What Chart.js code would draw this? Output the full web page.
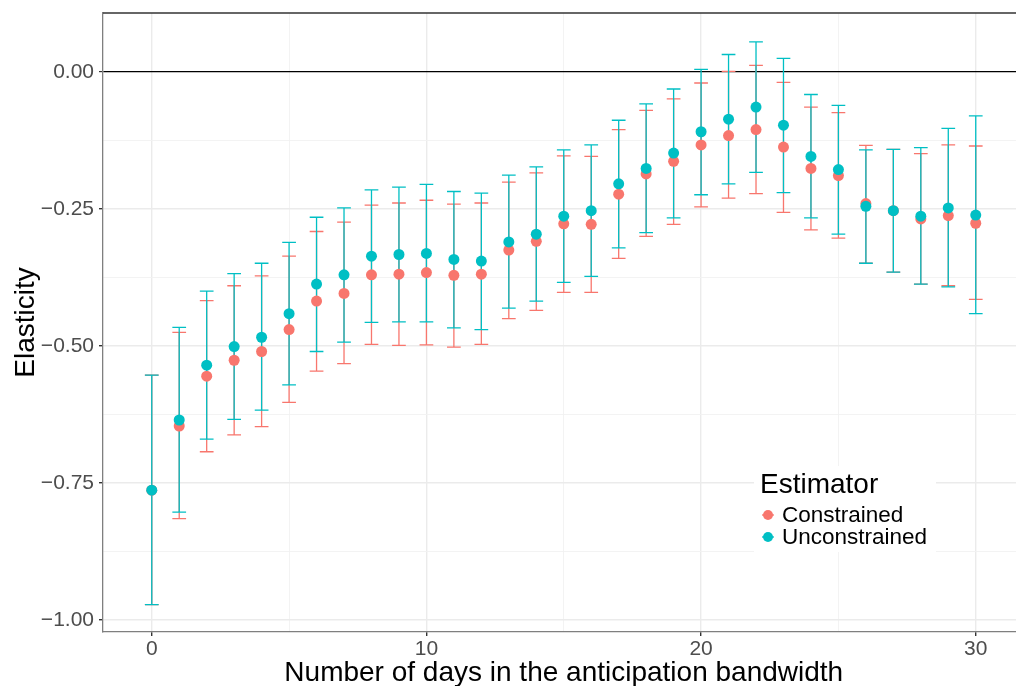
<!DOCTYPE html>
<html lang="en">
<head>
    <meta charset="UTF-8">
    <title>Elasticity by anticipation bandwidth</title>
    <style>
        html, body {
            margin: 0;
            padding: 0;
            background: #ffffff;
            overflow: hidden;
        }
        .chart-box {
            width: 1030px;
            height: 686px;
            position: relative;
        }
    </style>
</head>
<body>
    <div class="chart-box">
        <canvas id="elasticityChart"></canvas>
    </div>

    <script src="https://cdn.jsdelivr.net/npm/chart.js@4.4.3/dist/chart.umd.min.js"></script>
    <script>
        // Data
        const days = [0, 1, 2, 3, 4, 5, 6, 7, 8, 9, 10, 11, 12, 13, 14, 15,
                      16, 17, 18, 19, 20, 21, 22, 23, 24, 25, 26, 27, 28, 29, 30];

        const constrainedEst = [-0.763, -0.646, -0.555, -0.526, -0.510, -0.470, -0.418, -0.404,
            -0.370, -0.369, -0.366, -0.371, -0.369, -0.325, -0.309, -0.277, -0.278, -0.223,
            -0.186, -0.163, -0.133, -0.116, -0.105, -0.137, -0.176, -0.189, -0.240, -0.253,
            -0.268, -0.262, -0.276];
        const constrainedLow = [-0.972, -0.815, -0.693, -0.662, -0.647, -0.603, -0.546, -0.532,
            -0.497, -0.499, -0.498, -0.502, -0.497, -0.450, -0.435, -0.402, -0.402, -0.340,
            -0.300, -0.278, -0.246, -0.230, -0.222, -0.256, -0.288, -0.303, -0.349, -0.365,
            -0.387, -0.390, -0.415];
        const constrainedHigh = [-0.553, -0.475, -0.417, -0.390, -0.372, -0.336, -0.291, -0.274,
            -0.243, -0.239, -0.234, -0.241, -0.239, -0.201, -0.184, -0.153, -0.154, -0.105,
            -0.070, -0.049, -0.020, 0.001, 0.012, -0.019, -0.064, -0.074, -0.134, -0.141,
            -0.149, -0.133, -0.135];

        const unconstrainedEst = [-0.763, -0.635, -0.535, -0.501, -0.484, -0.441, -0.387, -0.370,
            -0.336, -0.333, -0.331, -0.342, -0.345, -0.310, -0.296, -0.263, -0.253, -0.204,
            -0.176, -0.148, -0.109, -0.086, -0.064, -0.097, -0.154, -0.178, -0.245, -0.253,
            -0.263, -0.248, -0.261];
        const unconstrainedLow = [-0.972, -0.803, -0.670, -0.634, -0.617, -0.571, -0.510, -0.493,
            -0.457, -0.456, -0.456, -0.467, -0.470, -0.431, -0.418, -0.384, -0.373, -0.321,
            -0.293, -0.266, -0.224, -0.204, -0.183, -0.220, -0.266, -0.296, -0.349, -0.365,
            -0.387, -0.392, -0.441];
        const unconstrainedHigh = [-0.553, -0.466, -0.400, -0.368, -0.349, -0.311, -0.265, -0.248,
            -0.215, -0.210, -0.205, -0.218, -0.221, -0.188, -0.173, -0.142, -0.133, -0.088,
            -0.058, -0.031, 0.005, 0.032, 0.055, 0.025, -0.041, -0.061, -0.142, -0.141,
            -0.138, -0.103, -0.080];

        const xTicks = [0, 5, 10, 15, 20, 25, 30];
        const yTicks = [-1, -0.875, -0.75, -0.625, -0.5, -0.375, -0.25, -0.125, 0];

        const RED = '#F8766D';
        const TEAL = '#00BFC4';
        const FONT = "'Liberation Sans', Arial, sans-serif";

        function toPoints(est) {
            return days.map((d, i) => ({ x: d, y: est[i] }));
        }

        function isMajorX(v) { return v % 10 === 0; }
        function isMajorY(v) { return Math.abs(Math.round(v * 4) - v * 4) < 1e-9; }

        function fmtY(v) {
            const s = Math.abs(v).toFixed(2);
            return v < 0 ? '\u2212' + s : s;
        }

        // error bars drawn under the points, through the chart scales
        const errorBars = {
            id: 'errorBars',
            beforeDatasetsDraw(chart) {
                const ctx = chart.ctx;
                const xs = chart.scales.x;
                const ys = chart.scales.y;
                chart.data.datasets.forEach(ds => {
                    ctx.save();
                    ctx.strokeStyle = ds.backgroundColor;
                    ctx.lineWidth = 1.3;
                    ds.errLow.forEach((lo, i) => {
                        const x = xs.getPixelForValue(days[i]);
                        const xl = xs.getPixelForValue(days[i] - 0.25);
                        const xr = xs.getPixelForValue(days[i] + 0.25);
                        const y1 = ys.getPixelForValue(lo);
                        const y2 = ys.getPixelForValue(ds.errHigh[i]);
                        ctx.beginPath();
                        ctx.moveTo(x, y1);
                        ctx.lineTo(x, y2);
                        ctx.moveTo(xl, y1);
                        ctx.lineTo(xr, y1);
                        ctx.moveTo(xl, y2);
                        ctx.lineTo(xr, y2);
                        ctx.stroke();
                    });
                    ctx.restore();
                });
            }
        };

        // top border + legend box inside the panel
        const frameAndLegend = {
            id: 'frameAndLegend',
            afterDraw(chart) {
                const ctx = chart.ctx;
                const a = chart.chartArea;
                ctx.save();
                ctx.strokeStyle = '#333333';
                ctx.lineWidth = 1.3;
                ctx.beginPath();
                ctx.moveTo(a.left, a.top);
                ctx.lineTo(a.right, a.top);
                ctx.stroke();

                // legend
                const lx = 754, ly = 466;
                ctx.fillStyle = '#ffffff';
                ctx.fillRect(lx, ly, 182, 86);
                ctx.fillStyle = '#000000';
                ctx.textBaseline = 'middle';
                ctx.textAlign = 'left';
                ctx.font = '28px ' + FONT;
                ctx.fillText('Estimator', lx + 6, ly + 19);
                ctx.font = '22.5px ' + FONT;
                chart.data.datasets.forEach((ds, i) => {
                    const cy = ly + 49 + i * 22;
                    ctx.strokeStyle = ds.backgroundColor;
                    ctx.lineWidth = 1.3;
                    ctx.beginPath();
                    ctx.moveTo(lx + 8, cy);
                    ctx.lineTo(lx + 20, cy);
                    ctx.stroke();
                    ctx.fillStyle = ds.backgroundColor;
                    ctx.beginPath();
                    ctx.arc(lx + 14, cy, 5, 0, Math.PI * 2);
                    ctx.fill();
                    ctx.fillStyle = '#000000';
                    ctx.fillText(ds.label, lx + 28, cy + 1);
                });
                ctx.restore();
            }
        };

        const ctx = document.getElementById('elasticityChart').getContext('2d');
        new Chart(ctx, {
            type: 'scatter',
            data: {
                datasets: [
                    {
                        label: 'Constrained',
                        data: toPoints(constrainedEst),
                        errLow: constrainedLow,
                        errHigh: constrainedHigh,
                        backgroundColor: RED,
                        pointRadius: 5.5,
                        pointBorderWidth: 0,
                        order: 2
                    },
                    {
                        label: 'Unconstrained',
                        data: toPoints(unconstrainedEst),
                        errLow: unconstrainedLow,
                        errHigh: unconstrainedHigh,
                        backgroundColor: TEAL,
                        pointRadius: 5.5,
                        pointBorderWidth: 0,
                        order: 1
                    }
                ]
            },
            options: {
                responsive: true,
                maintainAspectRatio: false,
                animation: false,
                layout: { padding: { top: 13, left: 0, right: 0, bottom: 0 } },
                plugins: {
                    legend: { display: false },
                    tooltip: { enabled: false }
                },
                scales: {
                    x: {
                        type: 'linear',
                        min: -1.775,
                        max: 31.775,
                        afterBuildTicks: s => { s.ticks = xTicks.map(v => ({ value: v })); },
                        afterFit: s => { s.height = 54; s.paddingLeft = 0; s.paddingRight = 0; },
                        ticks: {
                            autoSkip: false,
                            maxRotation: 0,
                            padding: 1,
                            color: '#4D4D4D',
                            font: { family: FONT, size: 21 },
                            callback: v => isMajorX(v) ? String(v) : ''
                        },
                        grid: {
                            color: c => isMajorX(c.tick.value) ? '#EBEBEB' : '#F2F2F2',
                            lineWidth: c => isMajorX(c.tick.value) ? 1.4 : 0.9,
                            tickColor: c => isMajorX(c.tick.value) ? '#333333' : 'rgba(0,0,0,0)',
                            tickLength: 4
                        },
                        border: { color: '#7F7F7F', width: 1.3 },
                        title: {
                            display: true,
                            text: 'Number of days in the anticipation bandwidth',
                            color: '#000000',
                            font: { family: FONT, size: 28 },
                            padding: { top: 0, bottom: -4 }
                        }
                    },
                    y: {
                        type: 'linear',
                        min: -1.0219,
                        max: 0.1077,
                        afterBuildTicks: s => { s.ticks = yTicks.map(v => ({ value: v })); },
                        afterFit: s => { s.width = 103; s.paddingTop = 0; s.paddingBottom = 0; },
                        ticks: {
                            autoSkip: false,
                            padding: 5,
                            color: '#4D4D4D',
                            font: { family: FONT, size: 21 },
                            callback: v => isMajorY(v) ? fmtY(v) : ''
                        },
                        grid: {
                            color: c => c.tick.value === 0 ? '#000000' : (isMajorY(c.tick.value) ? '#EBEBEB' : '#F2F2F2'),
                            lineWidth: c => c.tick.value === 0 ? 1.2 : (isMajorY(c.tick.value) ? 1.4 : 0.9),
                            tickColor: c => isMajorY(c.tick.value) ? '#333333' : 'rgba(0,0,0,0)',
                            tickLength: 4
                        },
                        border: { color: '#7F7F7F', width: 1.3 },
                        title: {
                            display: true,
                            text: 'Elasticity',
                            color: '#000000',
                            font: { family: FONT, size: 28 },
                            padding: { top: 9, bottom: 0 }
                        }
                    }
                }
            },
            plugins: [errorBars, frameAndLegend]
        });
    </script>
</body>
</html>
